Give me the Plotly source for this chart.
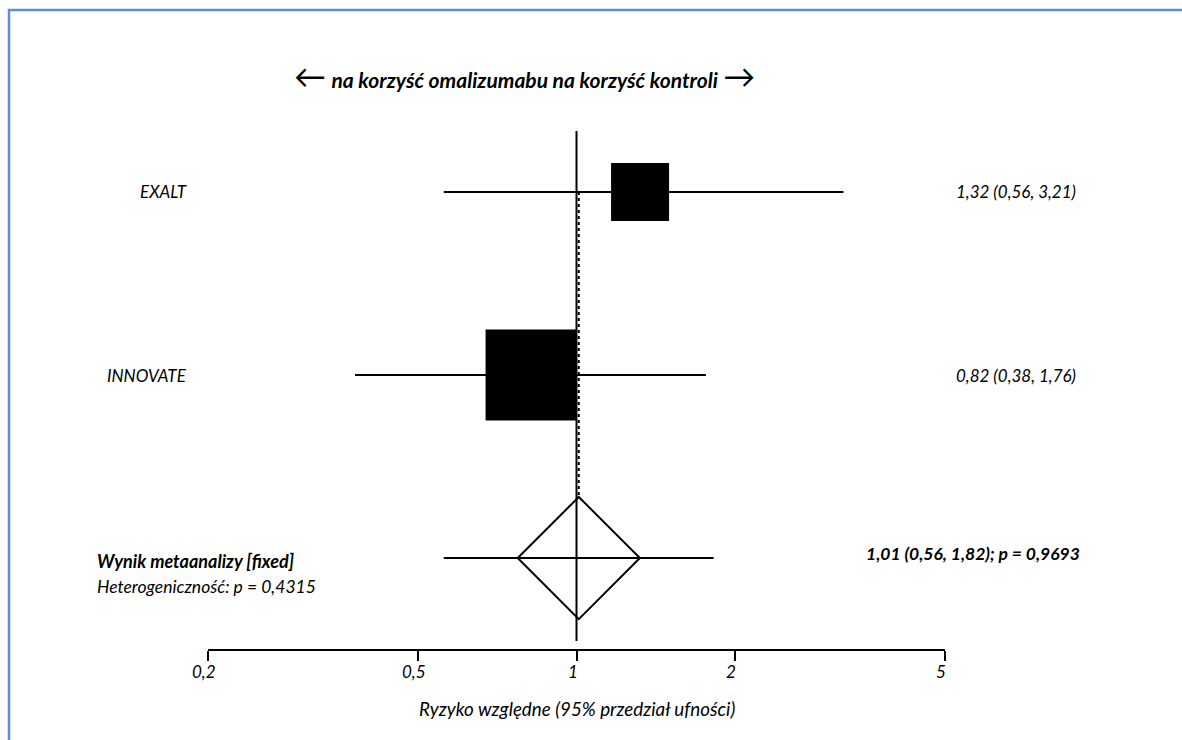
import math
import plotly.graph_objects as go

# Study-level relative risks with 95% confidence intervals
studies = ["EXALT", "INNOVATE"]
rr = [1.32, 0.82]
ci_low = [0.56, 0.38]
ci_high = [3.21, 1.76]

# Pooled (fixed-effect) result
pooled_rr = 1.01
pooled_low = 0.56
pooled_high = 1.82
pooled_p = 0.9693
heterogeneity_p = 0.4315

tick_vals = [0.2, 0.5, 1, 2, 5]
tick_text = ["0,2", "0,5", "1", "2", "5"]

# ---- layout / style ----
W, H = 1182, 740
L, R, T, B = 208, 237, 0, 91
PLOT_W = W - L - R
PLOT_H = H - T - B
study_rows = [3, 2]
pooled_row = 1
Y_RANGE = [0.503, 4.049]
PX_PER_ROW = PLOT_H / (Y_RANGE[1] - Y_RANGE[0])
box_sizes = [58, 91]
diamond_size = 94
FONT = "Lato, 'Open Sans', sans-serif"


def fmt(v, nd=2):
    return f"{v:.{nd}f}".replace(".", ",")


def px_x(px):
    return (px - L) / PLOT_W


def px_y(px):
    return 1 - (px - T) / PLOT_H


fig = go.Figure()

# reference line at RR = 1
fig.add_trace(go.Scatter(
    x=[1, 1], y=[Y_RANGE[1] - (131 - T) / PX_PER_ROW, Y_RANGE[1] - (641 - T) / PX_PER_ROW],
    mode="lines", line=dict(color="black", width=2), hoverinfo="skip"))

# dotted line at the pooled estimate
diamond_half = 1.3 * diamond_size / 2 / PX_PER_ROW
fig.add_trace(go.Scatter(
    x=[pooled_rr, pooled_rr], y=[study_rows[0], pooled_row + diamond_half],
    mode="lines", line=dict(color="black", width=2, dash="dot"), hoverinfo="skip"))

# confidence interval lines
for lo, hi, row in zip(ci_low + [pooled_low], ci_high + [pooled_high], study_rows + [pooled_row]):
    fig.add_trace(go.Scatter(
        x=[lo, hi], y=[row, row], mode="lines",
        line=dict(color="black", width=2), hoverinfo="skip"))

# study boxes
fig.add_trace(go.Scatter(
    x=rr, y=study_rows, mode="markers",
    marker=dict(symbol="square", size=box_sizes, color="black", opacity=1,
                line=dict(width=0)),
    hoverinfo="skip"))

# pooled diamond
fig.add_trace(go.Scatter(
    x=[pooled_rr], y=[pooled_row], mode="markers",
    marker=dict(symbol="diamond-open", size=diamond_size, color="black", opacity=1,
                line=dict(width=2, color="black")),
    hoverinfo="skip"))

annotations = []
# study names
for name, row in zip(studies, study_rows):
    annotations.append(dict(
        x=px_x(189), y=row, xref="paper", yref="y", xanchor="right", yanchor="middle",
        text=f"<i>{name}</i>", showarrow=False, font=dict(size=17, family=FONT, color="black")))
# study estimates
for v, lo, hi, row in zip(rr, ci_low, ci_high, study_rows):
    annotations.append(dict(
        x=px_x(1078), y=row, xref="paper", yref="y", xanchor="right", yanchor="middle",
        text=f"<i>{fmt(v)} ({fmt(lo)}, {fmt(hi)})</i>", showarrow=False,
        font=dict(size=17, family=FONT, color="black")))
# pooled labels
annotations.append(dict(
    x=px_x(1082), y=px_y(553), xref="paper", yref="paper", xanchor="right", yanchor="middle",
    text=f"<b><i>{fmt(pooled_rr)} ({fmt(pooled_low)}, {fmt(pooled_high)}); p = {fmt(pooled_p, 4)}</i></b>",
    showarrow=False, font=dict(size=17.5, family=FONT, color="black")))
annotations.append(dict(
    x=px_x(95), y=px_y(561), xref="paper", yref="paper", xanchor="left", yanchor="middle",
    text="<b><i>Wynik metaanalizy [fixed]</i></b>", showarrow=False,
    font=dict(size=18, family=FONT, color="black")))
annotations.append(dict(
    x=px_x(95), y=px_y(586), xref="paper", yref="paper", xanchor="left", yanchor="middle",
    text=f"<i>Heterogeniczność: p = {fmt(heterogeneity_p, 4)}</i>", showarrow=False,
    font=dict(size=17.5, family=FONT, color="black")))
# direction header
annotations.append(dict(
    x=px_x(524), y=px_y(75), xref="paper", yref="paper", xanchor="center", yanchor="middle",
    text=("<span style='font-size:32px'>←</span> "
          "<b><i>na korzyść omalizumabu na korzyść kontroli</i></b> "
          "<span style='font-size:32px'>→</span>"),
    showarrow=False, font=dict(size=21, family=FONT, color="black")))
# x tick labels (italic, nudged left like slanted text)
for v, t in zip(tick_vals, tick_text):
    annotations.append(dict(
        x=math.log10(v), y=px_y(671.5), xref="x", yref="paper", xanchor="center",
        yanchor="middle", xshift=-4, text=f"<i>{t}</i>", showarrow=False,
        font=dict(size=17, family=FONT, color="black")))
# axis title
annotations.append(dict(
    x=px_x(577), y=px_y(708), xref="paper", yref="paper", xanchor="center", yanchor="middle",
    text="<i>Ryzyko względne (95% przedział ufności)</i>", showarrow=False,
    font=dict(size=18.8, family=FONT, color="black")))

fig.update_layout(
    width=W, height=H,
    margin=dict(l=L, r=R, t=T, b=B, pad=0),
    paper_bgcolor="white", plot_bgcolor="white",
    showlegend=False,
    annotations=annotations,
    shapes=[dict(type="rect", xref="paper", yref="paper",
                 x0=px_x(9), x1=px_x(1300), y0=px_y(900), y1=px_y(10),
                 line=dict(color="#5A8ED6", width=2.5), fillcolor="rgba(0,0,0,0)", layer="below")],
    xaxis=dict(
        type="log", range=[math.log10(0.2), math.log10(5)],
        tickvals=tick_vals, ticktext=tick_text, showticklabels=False,
        showgrid=False, zeroline=False,
        showline=True, linecolor="black", linewidth=2,
        ticks="outside", ticklen=10, tickwidth=2, tickcolor="black",
        fixedrange=True,
    ),
    yaxis=dict(range=Y_RANGE, visible=False, fixedrange=True),
)

fig.write_html("out.html")
